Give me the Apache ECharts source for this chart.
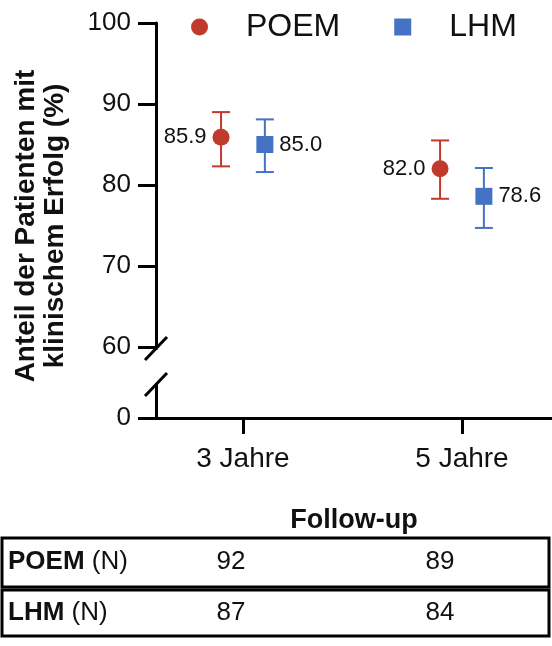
<!DOCTYPE html>
<html>
<head>
<meta charset="utf-8">
<script src="https://cdn.jsdelivr.net/npm/echarts@6/dist/echarts.min.js"></script>
<style>
  html, body { margin: 0; padding: 0; background: #fff; }
  #chart { width: 552px; height: 646px; }
</style>
</head>
<body>
<div id="chart"></div>
<script>
// Follow-up categories and clinical success rates (%) with confidence limits
const categories = ['3 Jahre', '5 Jahre'];
const poemValues = [85.9, 82.0];
const poemLow = [82.3, 78.3];
const poemHigh = [89.0, 85.5];
const lhmValues = [85.0, 78.6];
const lhmLow = [81.6, 74.7];
const lhmHigh = [88.1, 82.1];
const upperTicks = [60, 70, 80, 90, 100];
const lowerTicks = [0];
// Patient numbers per follow-up
const poemN = [92, 89];
const lhmN = [87, 84];

const RED = '#c0392b';
const BLUE = '#4472c4';
const FONT = "'Liberation Sans', Arial, Helvetica, sans-serif";
const DODGE = 0.1;

const catPos = categories.map((c, i) => i + 1);

function points(vals, shift) {
  return vals.map((v, i) => [catPos[i] + shift, v]);
}
function bars(vals, lo, hi, shift) {
  return vals.map((v, i) => [catPos[i] + shift, lo[i], hi[i]]);
}

function errorBar(color) {
  return function (params, api) {
    const x = api.value(0);
    const lo = api.coord([x, api.value(1)]);
    const hi = api.coord([x, api.value(2)]);
    const cap = 9;
    const style = { stroke: color, lineWidth: 2 };
    return {
      type: 'group',
      children: [
        { type: 'line', shape: { x1: lo[0], y1: lo[1], x2: hi[0], y2: hi[1] }, style },
        { type: 'line', shape: { x1: hi[0] - cap, y1: hi[1], x2: hi[0] + cap, y2: hi[1] }, style },
        { type: 'line', shape: { x1: lo[0] - cap, y1: lo[1], x2: lo[0] + cap, y2: lo[1] }, style }
      ]
    };
  };
}

const xMin = 0.603, xMax = 2.411;
const axisLineStyle = { color: '#000', width: 3 };

const chart = echarts.init(document.getElementById('chart'), null, { renderer: 'canvas' });

const graphics = [
  // axis break marks
  { type: 'line', shape: { x1: 145, y1: 360, x2: 167, y2: 337 }, style: { stroke: '#000', lineWidth: 3 } },
  { type: 'line', shape: { x1: 145, y1: 396, x2: 167, y2: 373 }, style: { stroke: '#000', lineWidth: 3 } },
  { type: 'line', shape: { x1: 156, y1: 346, x2: 156, y2: 350 }, style: { stroke: '#000', lineWidth: 3 } },
  // y axis title
  {
    type: 'text', x: 41, y: 226, rotation: Math.PI / 2,
    style: {
      text: 'Anteil der Patienten mit\nklinischem Erfolg (%)',
      font: 'bold 28px ' + FONT, fill: '#111',
      align: 'center', verticalAlign: 'middle', lineHeight: 29
    }
  },
  // N table
  { type: 'rect', shape: { x: 2, y: 538, width: 547, height: 49 }, style: { fill: 'none', stroke: '#000', lineWidth: 3 } },
  { type: 'rect', shape: { x: 2, y: 590, width: 547, height: 46 }, style: { fill: 'none', stroke: '#000', lineWidth: 3 } }
];

const tableRows = [
  { name: 'POEM', values: poemN, y: 562 },
  { name: 'LHM', values: lhmN, y: 613 }
];
const tableCols = [231, 440];
tableRows.forEach(row => {
  graphics.push({
    type: 'text', x: 8, y: row.y,
    style: {
      text: '{b|' + row.name + '} (N)',
      font: '26px ' + FONT, fill: '#111', verticalAlign: 'middle',
      rich: { b: { fontWeight: 'bold', fontSize: 26, fontFamily: FONT, fill: '#111' } }
    }
  });
  row.values.forEach((v, i) => {
    graphics.push({
      type: 'text', x: tableCols[i], y: row.y,
      style: { text: String(v), font: '26px ' + FONT, fill: '#111', align: 'center', verticalAlign: 'middle' }
    });
  });
});

chart.setOption({
  animation: false,
  backgroundColor: '#fff',
  textStyle: { fontFamily: FONT },
  legend: {
    data: [{ name: 'POEM', icon: 'circle' }, { name: 'LHM', icon: 'rect' }],
    left: 186, top: 6,
    itemWidth: 17, itemHeight: 17, itemGap: 54,
    textStyle: { fontSize: 32, color: '#111', fontFamily: FONT, padding: [0, 0, 0, 33] }
  },
  grid: [
    { left: 156, top: 23, right: 0, height: 324 },
    { left: 156, top: 384, right: 0, height: 34 }
  ],
  xAxis: [
    { gridIndex: 0, type: 'value', min: xMin, max: xMax, show: false },
    {
      gridIndex: 1, type: 'value', min: xMin, max: xMax,
      axisLine: { show: true, onZero: false, lineStyle: axisLineStyle },
      axisTick: { show: true, customValues: catPos, length: 16, lineStyle: { color: '#000', width: 3 } },
      axisLabel: {
        customValues: catPos, formatter: v => categories[Math.round(v) - 1],
        fontSize: 28, color: '#111', margin: 27, fontFamily: FONT
      },
      splitLine: { show: false },
      name: 'Follow-up', nameLocation: 'middle', nameGap: 89,
      nameTextStyle: { fontSize: 27, fontWeight: 'bold', color: '#111', fontFamily: FONT }
    }
  ],
  yAxis: [
    {
      gridIndex: 0, type: 'value', min: 60, max: 100,
      axisLine: { show: true, onZero: false, lineStyle: axisLineStyle },
      axisTick: { show: true, customValues: upperTicks, length: 18, lineStyle: { color: '#000', width: 3 } },
      axisLabel: { customValues: upperTicks, fontSize: 26, color: '#111', margin: 25, fontFamily: FONT },
      splitLine: { show: false }
    },
    {
      gridIndex: 1, type: 'value', min: 0, max: 4.2,
      axisLine: { show: true, onZero: false, lineStyle: axisLineStyle },
      axisTick: { show: true, customValues: lowerTicks, length: 18, lineStyle: { color: '#000', width: 3 } },
      axisLabel: { customValues: lowerTicks, fontSize: 26, color: '#111', margin: 25, fontFamily: FONT },
      splitLine: { show: false }
    }
  ],
  series: [
    {
      type: 'custom', name: 'POEM', xAxisIndex: 0, yAxisIndex: 0,
      renderItem: errorBar(RED), data: bars(poemValues, poemLow, poemHigh, -DODGE),
      itemStyle: { color: RED }, z: 1, silent: true
    },
    {
      type: 'custom', name: 'LHM', xAxisIndex: 0, yAxisIndex: 0,
      renderItem: errorBar(BLUE), data: bars(lhmValues, lhmLow, lhmHigh, DODGE),
      itemStyle: { color: BLUE }, z: 1, silent: true
    },
    {
      type: 'scatter', name: 'POEM', xAxisIndex: 0, yAxisIndex: 0,
      data: points(poemValues, -DODGE), symbol: 'circle', symbolSize: 17,
      itemStyle: { color: RED, opacity: 1 }, z: 3,
      label: {
        show: true, position: 'left', distance: 6, fontSize: 22, color: '#111', fontFamily: FONT,
        formatter: p => p.value[1].toFixed(1)
      }
    },
    {
      type: 'scatter', name: 'LHM', xAxisIndex: 0, yAxisIndex: 0,
      data: points(lhmValues, DODGE), symbol: 'rect', symbolSize: 17,
      itemStyle: { color: BLUE, opacity: 1 }, z: 3,
      label: {
        show: true, position: 'right', distance: 6, fontSize: 22, color: '#111', fontFamily: FONT,
        formatter: p => p.value[1].toFixed(1)
      }
    }
  ],
  graphic: graphics
});
</script>
</body>
</html>
